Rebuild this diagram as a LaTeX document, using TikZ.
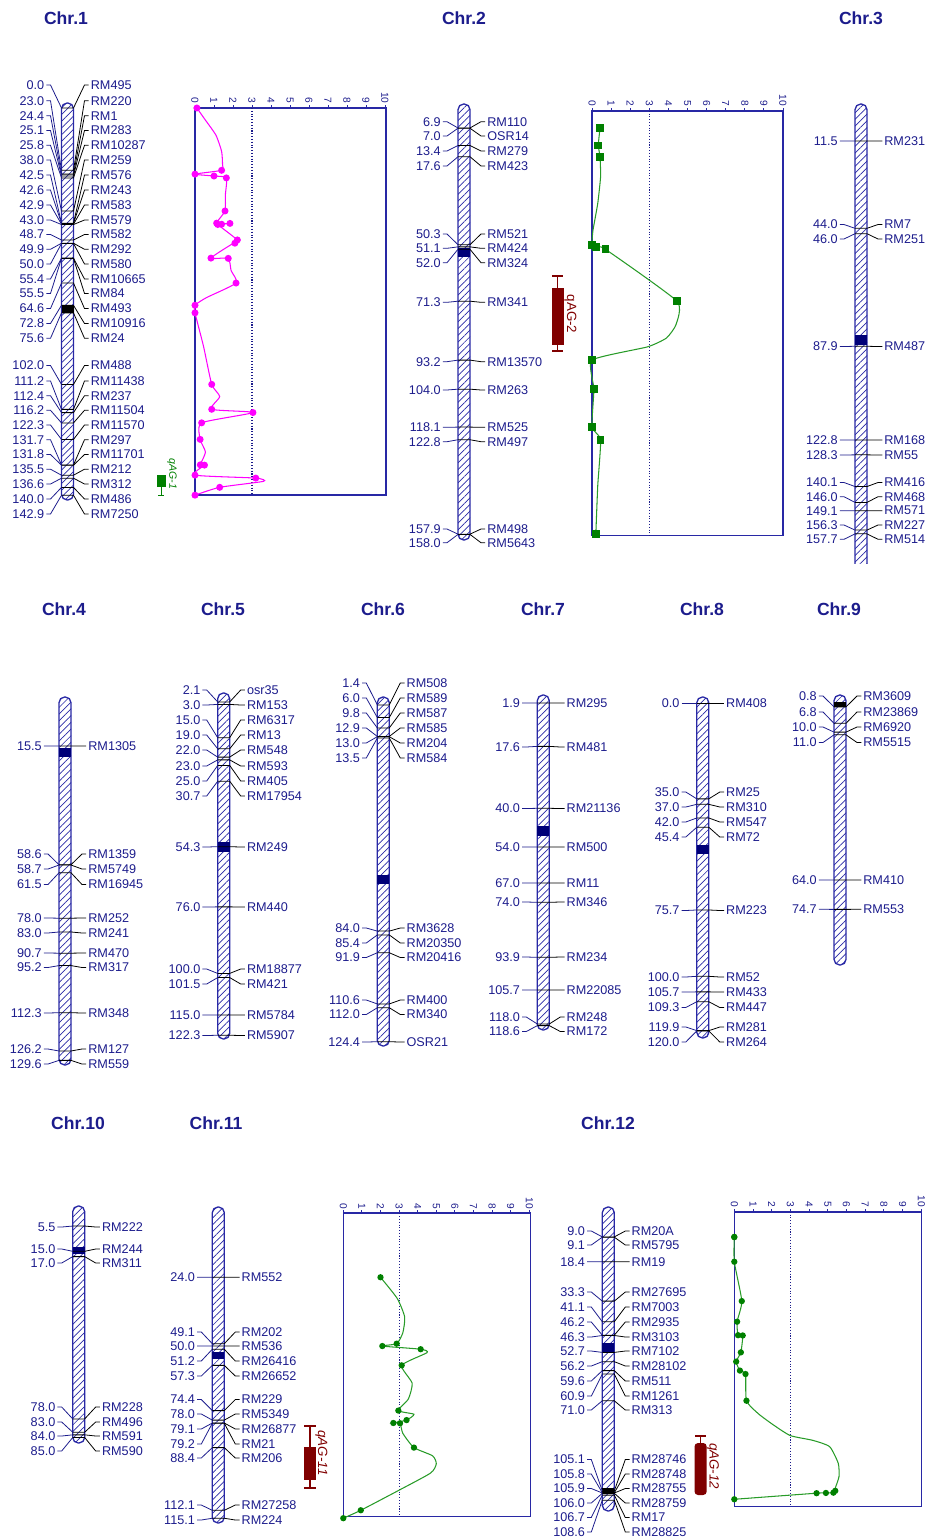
\documentclass[tikz,border=0pt]{standalone}
\usepackage{fontspec}
\setmainfont{Liberation Sans}
\usetikzlibrary{patterns.meta}
\definecolor{navy}{RGB}{28,28,140}
\definecolor{chrblue}{RGB}{40,40,165}
\definecolor{cenblue}{RGB}{0,0,120}
\definecolor{lodgreen}{RGB}{0,128,0}
\definecolor{curvegreen}{RGB}{40,155,40}
\definecolor{qtlred}{RGB}{128,0,0}
\definecolor{lodpink}{RGB}{255,0,255}

% #1 name, #2 x, #3 y of 0 cM, #4 px per cM, #5 top, #6 bottom, #7 markers, #8 blocks
\newcommand{\chrom}[8]{%
  \draw[chrbody] (#2-6,#5) rectangle (#2+6,#6);
  \foreach \ya/\yb/\bc in {#8} \fill[\bc] (#2-6,\ya) rectangle (#2+6,\yb);
  \foreach \p/\ly/\nm [count=\mi] in {#7} {
    \pgfmathsetmacro{\my}{#3+#4*\p}
    \node[maplab, anchor=east] (#1p\mi) at (#2-23,\ly) {\p};
    \node[maplab, anchor=west] (#1n\mi) at (#2+23,\ly) {\nm};
    \draw[conn, navy] ([xshift=1pt]#1p\mi.east) -- (#2-17,\ly) -- (#2-6,\my);
    \draw[conn] (#2-6,\my) -- (#2+6,\my) -- (#2+17,\ly) -- ([xshift=-1pt]#1n\mi.west);
  }
}
% #1 top cM, #2 bottom cM, #3 right LOD, #4 name
\newcommand{\lodaxis}[4]{%
  \draw[lodbox] (0,#1) rectangle (#3,#2);
  \draw[navy, densely dotted, line width=0.6pt] (3,#1) -- (3,#2);
  \foreach \tk in {0,...,10} {
    \draw[chrblue, line width=0.5pt] (\tk,#1) -- ++(0,1.8pt);
    \node[ticklab] (#4t\tk) at ([yshift=2.4pt]\tk,#1) {\tk};
  }
}

\begin{document}
\begin{tikzpicture}[x=0.02cm, y=-0.02cm,
  chrbody/.style={draw=chrblue, line width=0.75pt, rounded corners=3.2pt,
    pattern={Lines[angle=45, distance=2.7pt, line width=0.4pt]}, pattern color=chrblue},
  maplab/.style={font=\fontsize{7.2}{8}\selectfont, text=navy, inner sep=0pt},
  conn/.style={line width=0.45pt},
  chrtitle/.style={font=\fontsize{10}{12}\selectfont\bfseries, text=navy},
  lodbox/.style={draw=chrblue, line width=0.9pt},
  ticklab/.style={font=\fontsize{5.8}{6}\selectfont, text=navy, rotate=-90, anchor=east, inner sep=0pt},
  qtllab/.style={font=\fontsize{7.6}{9}\selectfont\itshape, rotate=-90, inner sep=0pt}]
\useasboundingbox (0,0) rectangle (930,1538);

\node[chrtitle] (t1) at (66,18) {Chr.1};
\node[chrtitle] (t2) at (464,18) {Chr.2};
\node[chrtitle] (t3) at (861,18) {Chr.3};
\node[chrtitle] (t4) at (64,609) {Chr.4};
\node[chrtitle] (t5) at (223,609) {Chr.5};
\node[chrtitle] (t6) at (383,609) {Chr.6};
\node[chrtitle] (t7) at (543,609) {Chr.7};
\node[chrtitle] (t8) at (702,609) {Chr.8};
\node[chrtitle] (t9) at (839,609) {Chr.9};
\node[chrtitle] (t10) at (78,1123) {Chr.10};
\node[chrtitle] (t11) at (216,1123) {Chr.11};
\node[chrtitle] (t12) at (608,1123) {Chr.12};

\chrom{c1}{67.5}{108}{2.71}{103}{500}{0.0/85/RM495, 23.0/100.7/RM220, 24.4/115.7/RM1, 25.1/130.5/RM283, 25.8/145.3/RM10287, 38.0/160/RM259, 42.5/175/RM576, 42.6/190/RM243, 42.9/205/RM583, 43.0/220/RM579, 48.7/234.5/RM582, 49.9/249.3/RM292, 50.0/264/RM580, 55.4/279/RM10665, 55.5/293.5/RM84, 64.6/308.5/RM493, 72.8/323.5/RM10916, 75.6/338.3/RM24, 102.0/365.5/RM488, 111.2/381/RM11438, 112.4/395.7/RM237, 116.2/410.3/RM11504, 122.3/425/RM11570, 131.7/439.7/RM297, 131.8/454.5/RM11701, 135.5/469.2/RM212, 136.6/484/RM312, 140.0/499/RM486, 142.9/514/RM7250}{305/313/black}
\chrom{c2}{464}{109.4}{2.69}{104}{540}{6.9/121.7/RM110, 7.0/136/OSR14, 13.4/151/RM279, 17.6/166/RM423, 50.3/234/RM521, 51.1/248.3/RM424, 52.0/262.7/RM324, 71.3/302.3/RM341, 93.2/361.7/RM13570, 104.0/390/RM263, 118.1/427.3/RM525, 122.8/441.7/RM497, 157.9/529/RM498, 158.0/542.7/RM5643}{248/256.5/cenblue}
\begin{scope}
\clip (790,90) rectangle (930,563);
\chrom{c3}{861}{110.1}{2.687}{104}{585}{11.5/141/RM231, 44.0/224.5/RM7, 46.0/239/RM251, 87.9/346.5/RM487, 122.8/440/RM168, 128.3/455/RM55, 140.1/482.5/RM416, 146.0/496.7/RM468, 149.1/510.7/RM571, 156.3/525/RM227, 157.7/539.3/RM514}{335/345/cenblue}
\end{scope}
\chrom{c4}{65}{703.3}{2.755}{697}{1065}{15.5/746/RM1305, 58.6/854/RM1359, 58.7/869/RM5749, 61.5/884.5/RM16945, 78.0/918/RM252, 83.0/933/RM241, 90.7/953/RM470, 95.2/967.5/RM317, 112.3/1013/RM348, 126.2/1049/RM127, 129.6/1064/RM559}{748/757/cenblue}
\chrom{c5}{223.7}{696.1}{2.773}{693}{1039}{2.1/690/osr35, 3.0/705/RM153, 15.0/720/RM6317, 19.0/735/RM13, 22.0/750/RM548, 23.0/766/RM593, 25.0/781/RM405, 30.7/796/RM17954, 54.3/847/RM249, 76.0/907/RM440, 100.0/969/RM18877, 101.5/984/RM421, 115.0/1015/RM5784, 122.3/1035.5/RM5907}{841.7/851.7/cenblue}
\chrom{c6}{383.3}{701.1}{2.738}{697}{1046}{1.4/683/RM508, 6.0/698/RM589, 9.8/713/RM587, 12.9/728/RM585, 13.0/743/RM204, 13.5/758/RM584, 84.0/928/RM3628, 85.4/943/RM20350, 91.9/957.5/RM20416, 110.6/1000/RM400, 112.0/1014.5/RM340, 124.4/1042/OSR21}{875/884/cenblue}
\chrom{c7}{543.3}{697.7}{2.765}{695}{1030}{1.9/703/RM295, 17.6/747/RM481, 40.0/808.5/RM21136, 54.0/847/RM500, 67.0/883/RM11, 74.0/902/RM346, 93.9/957/RM234, 105.7/990/RM22085, 118.0/1017/RM248, 118.6/1031.5/RM172}{826/836/cenblue}
\chrom{c8}{702.8}{703.3}{2.73}{697}{1038}{0.0/703.3/RM408, 35.0/792/RM25, 37.0/807/RM310, 42.0/822/RM547, 45.4/837/RM72, 75.7/910.5/RM223, 100.0/977/RM52, 105.7/992/RM433, 109.3/1007.5/RM447, 119.9/1027/RM281, 120.0/1042/RM264}{845/854/cenblue}
\chrom{c9}{840}{704.7}{2.74}{695}{965}{0.8/696/RM3609, 6.8/712/RM23869, 10.0/727/RM6920, 11.0/742.5/RM5515, 64.0/880/RM410, 74.7/909.3/RM553}{702/706.5/black}
\chrom{c10}{78.7}{1211.4}{2.66}{1206}{1443}{5.5/1227/RM222, 15.0/1249/RM244, 17.0/1263/RM311, 78.0/1407/RM228, 83.0/1422/RM496, 84.0/1436/RM591, 85.0/1451/RM590}{1246.7/1254/cenblue}
\chrom{c11}{218.3}{1213.8}{2.645}{1207}{1523}{24.0/1277.3/RM552, 49.1/1332/RM202, 50.0/1346/RM536, 51.2/1361/RM26416, 57.3/1376/RM26652, 74.4/1399.5/RM229, 78.0/1414/RM5349, 79.1/1429/RM26877, 79.2/1444/RM21, 88.4/1458/RM206, 112.1/1505/RM27258, 115.1/1520/RM224}{1351.7/1359.3/cenblue}
\chrom{c12}{608.3}{1213.1}{2.643}{1207}{1511}{9.0/1231/RM20A, 9.1/1245/RM5795, 18.4/1261.7/RM19, 33.3/1292/RM27695, 41.1/1307/RM7003, 46.2/1322/RM2935, 46.3/1337/RM3103, 52.7/1351/RM7102, 56.2/1366/RM28102, 59.6/1381/RM511, 60.9/1396/RM1261, 71.0/1410/RM313, 105.1/1459.5/RM28746, 105.8/1474/RM28748, 105.9/1488.5/RM28755, 106.0/1503/RM28759, 106.7/1517.5/RM17, 108.6/1532/RM28825}{1342.7/1351.7/cenblue, 1488/1493.5/black}

\begin{scope}[shift={(195,108)}, x=0.38cm, y=-0.0542cm]
  \lodaxis{0}{142.9}{10.05}{p1}
  \draw[lodpink, line width=0.6pt] plot[smooth, tension=0.35] coordinates {(0.1,0) (0.5,4) (1.1,10) (1.4,16) (1.45,21) (1.4,23.0) (0,24.4) (1.0,25.1) (1.65,25.8) (1.6,32) (1.58,38.0) (1.14,42.5) (1.84,42.6) (1.4,42.9) (1.2,43.0) (2.23,48.7) (2.1,49.9) (2.0,50.0) (0.84,55.4) (1.75,55.5) (1.9,60) (2.16,64.6) (0.6,70) (0,72.8) (0,75.6) (0.45,88) (0.88,102.0) (1.3,106.5) (0.88,111.2) (3.05,112.4) (0.35,116.2) (0.27,122.3) (0.55,127) (0.28,131.7) (0.5,131.8) (0,135.5) (3.2,136.6) (3.6,137.8) (1.3,140.0) (0,142.9)};
  \foreach \cm/\lod in {0.0/0.1, 23.0/1.4, 24.4/0, 25.1/1.0, 25.8/1.65, 38.0/1.58, 42.5/1.14, 42.6/1.84, 42.9/1.4, 43.0/1.2, 48.7/2.23, 49.9/2.1, 55.4/0.84, 55.5/1.75, 64.6/2.16, 72.8/0, 75.6/0, 102.0/0.88, 111.2/0.88, 112.4/3.05, 116.2/0.35, 122.3/0.27, 131.7/0.28, 131.8/0.5, 135.5/0, 136.6/3.2, 140.0/1.3, 142.9/0}
    \fill[lodpink] (\lod,\cm) circle (2pt);
\end{scope}

\begin{scope}[shift={(592,109.4)}, x=0.382cm, y=-0.0538cm]
  \lodaxis{0.5}{158.5}{10}{p2}
  \draw[curvegreen, line width=0.6pt] plot[smooth, tension=0.3] coordinates {(0.42,6.9) (0.33,13.4) (0.42,17.6) (0.45,25) (0.3,35) (0.05,45) (0,50.3) (0.2,51.1) (0.7,52.0) (4.45,71.3) (4.4,80) (3.9,85) (2.9,88.3) (0,93.2) (0.1,104.0) (0,118.1) (0.45,122.8) (0.3,140) (0.2,158.0)};
  \foreach \cm/\lod in {6.9/0.42, 7.0/0.4, 13.4/0.33, 17.6/0.42, 50.3/0, 51.1/0.2, 52.0/0.7, 71.3/4.45, 93.2/0, 104.0/0.1, 118.1/0, 122.8/0.45, 157.9/0.2, 158.0/0.2}
    \fill[lodgreen] ([xshift=-2.2pt,yshift=-2.2pt]\lod,\cm) rectangle ++(4.4pt,4.4pt);
\end{scope}

\begin{scope}[shift={(343.3,1213.8)}, x=0.372cm, y=-0.0529cm]
  \lodaxis{-0.2}{114.5}{10.07}{p11}
  \draw[curvegreen, line width=0.6pt] plot[smooth, tension=0.35] coordinates {(2.0,24.0) (2.9,32) (3.3,39) (3.2,45) (2.87,49.1) (2.1,50.0) (4.16,51.2) (4.5,52.5) (3.14,57.3) (3.7,64) (3.5,70) (2.96,74.4) (3.8,75.8) (3.4,78.0) (2.69,79.1) (3.05,79.2) (3.2,83) (3.8,88.4) (4.8,91.5) (5.0,94.5) (4.7,98) (3.0,104.5) (0.94,112.1) (0,115.1)};
  \foreach \cm/\lod in {24.0/2.0, 49.1/2.87, 50.0/2.1, 51.2/4.16, 57.3/3.14, 74.4/2.96, 78.0/3.4, 79.1/2.69, 79.2/3.05, 88.4/3.8, 112.1/0.94, 115.1/0}
    \fill[lodgreen] (\lod,\cm) circle (1.8pt);
\end{scope}

\begin{scope}[shift={(734.3,1213.1)}, x=0.374cm, y=-0.05286cm]
  \lodaxis{-0.5}{111.1}{10.02}{p12}
  \draw[curvegreen, line width=0.6pt] plot[smooth, tension=0.35] coordinates {(0,9.0) (0,18.4) (0.4,33.3) (0.15,41.1) (0.2,46.2) (0.45,46.3) (0.35,52.7) (0.1,56.2) (0.3,59.6) (0.6,60.9) (0.65,71.0) (1.3,76) (2.1,80.2) (3.0,84.2) (4.2,86) (5.1,88.4) (5.56,94.7) (5.6,99.7) (5.4,104.1) (5.4,105.1) (5.3,105.8) (4.9,105.9) (4.4,106.0) (0,108.3)};
  \foreach \cm/\lod in {9.0/0, 9.1/0, 18.4/0, 33.3/0.4, 41.1/0.15, 46.2/0.2, 46.3/0.45, 52.7/0.35, 56.2/0.1, 59.6/0.3, 60.9/0.6, 71.0/0.65, 105.1/5.4, 105.8/5.3, 105.9/4.9, 106.0/4.4, 108.3/0}
    \fill[lodgreen] (\lod,\cm) circle (1.8pt);
\end{scope}

\fill[lodgreen] (156.5,475) rectangle (166,487);
\draw[lodgreen, line width=0.5pt] (161,487) -- (161,495) (158,495) -- (164,495);
\node[qtllab, text=lodgreen, font=\fontsize{6}{7}\selectfont\itshape] (q1) at (172,474) {qAG-1};

\draw[qtlred, line width=0.6pt] (557.7,276) -- (557.7,351) (552,276) -- (563.4,276) (552,351) -- (563.4,351);
\fill[qtlred] (551.7,288) rectangle (563.7,345);
\node[qtllab, text=qtlred, font=\fontsize{7.6}{9}\selectfont] (q2) at (570.5,314) {qAG-2};

\draw[qtlred, line width=0.6pt] (310,1426) -- (310,1488) (304,1426) -- (316,1426) (304,1488) -- (316,1488);
\fill[qtlred] (304,1447) rectangle (316,1480);
\node[qtllab, text=qtlred] (q11) at (321.5,1453) {qAG-11};

\draw[qtlred, line width=0.6pt] (700.6,1436) -- (700.6,1450) (695,1436) -- (706.2,1436);
\fill[qtlred, rounded corners=2pt] (694.5,1443) rectangle (706.7,1495);
\node[qtllab, text=qtlred] (q12) at (713,1466) {qAG-12};
\end{tikzpicture}
\end{document}
